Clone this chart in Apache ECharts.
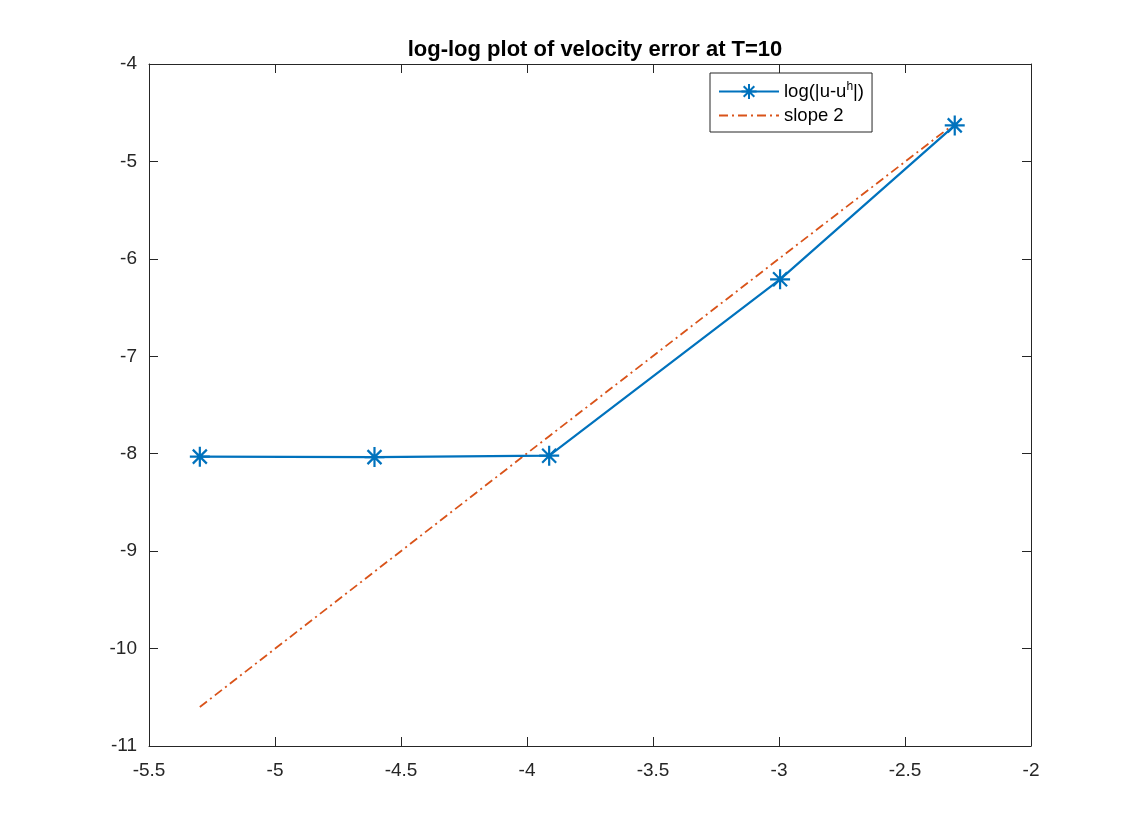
<!DOCTYPE html>
<html><head><meta charset="utf-8">
<script src="https://cdn.jsdelivr.net/npm/echarts@6/dist/echarts.min.js"></script>
<style>html,body{margin:0;padding:0;background:#fff}#c{width:1140px;height:840px}</style>
</head><body><div id="c"></div>
<script>
const xLog = [-5.2983, -4.6052, -3.9120, -2.9957, -2.3026];
const errVals = [-8.03, -8.035, -8.02, -6.21, -4.63];
const slopeVals = [-10.6, -9.21, -7.82, -5.99, -4.61];
const xTicks = { min: -5.5, max: -2, interval: 0.5 };
const yTicks = { min: -11, max: -4, interval: 1 };
const titleText = 'log-log plot of velocity error at T=10';
const seriesNames = ['log(|u-u^h|)', 'slope 2'];

const font = 'Liberation Sans, Arial, Helvetica, sans-serif';
const star = 'path://M0,-10L0,10M-10,0L10,0M-7,-7L7,7M-7,7L7,-7';
const axisCommon = {
  type: 'value',
  axisLine: { show: true, onZero: false, lineStyle: { color: '#262626', width: 1 } },
  axisTick: { show: true, inside: true, length: 9, lineStyle: { color: '#262626' } },
  splitLine: { show: false },
  axisLabel: { color: '#262626', fontSize: 19, fontFamily: font }
};
const chart = echarts.init(document.getElementById('c'));
chart.setOption({
  animation: false,
  backgroundColor: '#fff',
  title: { text: titleText, left: 590, textAlign: 'center', top: 34,
    textStyle: { fontSize: 22, fontWeight: 'bold', color: '#000', fontFamily: font } },
  grid: { left: 149, right: 109, top: 64, bottom: 94 },
  legend: {
    orient: 'vertical', left: 710, top: 73,
    backgroundColor: '#fff', borderColor: '#262626', borderWidth: 1,
    padding: [8, 8, 7, 8], itemWidth: 60, itemHeight: 19, itemGap: 5,
    data: [
      { name: seriesNames[0] },
      { name: seriesNames[1], itemStyle: { opacity: 0 } }
    ],
    formatter: function (n) { return n === seriesNames[0] ? 'log(|u-u{sup|h}|)' : n; },
    textStyle: { fontSize: 18.5, color: '#000', fontFamily: font,
      rich: { sup: { fontSize: 12, verticalAlign: 'top', padding: [0, 0, 9, 0], fontFamily: font, color: '#000' } } }
  },
  xAxis: [
    Object.assign({}, axisCommon, { min: xTicks.min, max: xTicks.max, interval: xTicks.interval, position: 'bottom',
      axisLabel: Object.assign({}, axisCommon.axisLabel, { margin: 15 }) }),
    Object.assign({}, axisCommon, { min: xTicks.min, max: xTicks.max, interval: xTicks.interval, position: 'top',
      axisLabel: { show: false } })
  ],
  yAxis: [
    Object.assign({}, axisCommon, { min: yTicks.min, max: yTicks.max, interval: yTicks.interval, position: 'left',
      axisLabel: Object.assign({}, axisCommon.axisLabel, { margin: 12 }) }),
    Object.assign({}, axisCommon, { min: yTicks.min, max: yTicks.max, interval: yTicks.interval, position: 'right',
      axisLabel: { show: false } })
  ],
  series: [
    {
      name: seriesNames[0], type: 'line',
      data: xLog.map((x, i) => [x, errVals[i]]),
      lineStyle: { color: '#0072BD', width: 2.2 },
      symbol: star, symbolSize: 20,
      itemStyle: { color: 'rgba(0,0,0,0)', borderColor: '#0072BD', borderWidth: 2.2 },
      z: 3
    },
    {
      name: seriesNames[1], type: 'line',
      data: xLog.map((x, i) => [x, slopeVals[i]]),
      lineStyle: { color: '#D95319', width: 1.8, type: [9, 4, 2, 4] },
      itemStyle: { color: '#D95319' },
      symbol: 'none', showSymbol: false,
      z: 2
    }
  ]
});
</script></body></html>
